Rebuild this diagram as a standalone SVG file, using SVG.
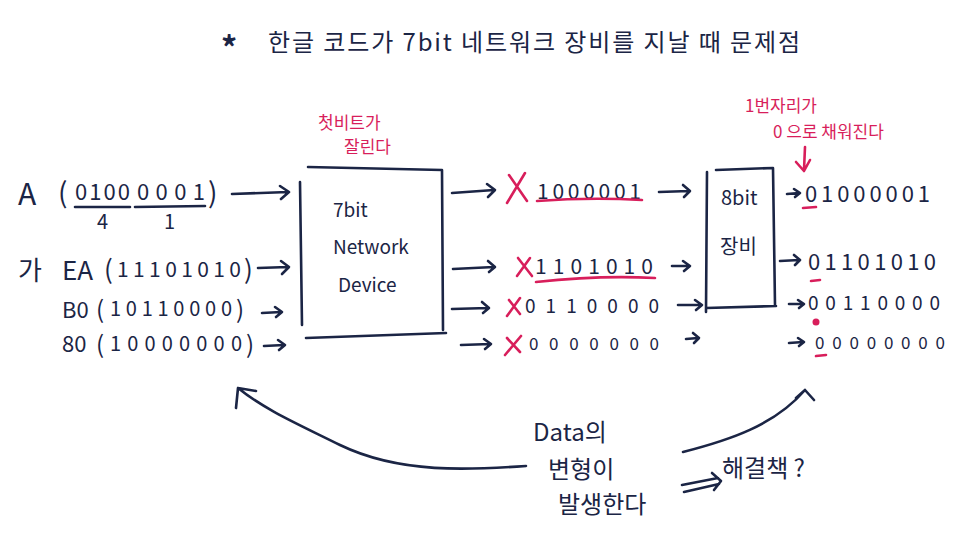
<svg xmlns="http://www.w3.org/2000/svg" width="964" height="548" viewBox="0 0 964 548">
<style>
text{font-family:"Noto Sans CJK KR","Noto Sans",sans-serif;fill:#1b2545}
.r{fill:#d81e5b}
.ln{fill:none;stroke:#1b2545;stroke-width:2.6;stroke-linecap:round;stroke-linejoin:round}
.rl{fill:none;stroke:#d81e5b;stroke-width:2.6;stroke-linecap:round;stroke-linejoin:round}
</style>
<rect width="964" height="548" fill="#ffffff"/>
<g id="title">
<text x="221" y="60" font-size="32" font-weight="bold">*</text>
<text x="268" y="51" font-size="24" textLength="532">한글 코드가  7bit 네트워크 장비를 지날 때 문제점</text>
</g>
<g id="inputs">
<text x="18" y="205" font-size="30">A</text>
<text x="58" y="203" font-size="28">(</text>
<text x="75" y="200" font-size="22" textLength="55" lengthAdjust="spacing">0100</text>
<text x="137" y="200" font-size="22" textLength="68" lengthAdjust="spacing">0001</text>
<text x="208" y="203" font-size="28">)</text>
<path class="ln" d="M75 207 L130 207 M135 207 L205 206"/>
<text x="97" y="229" font-size="20">4</text>
<text x="164" y="229" font-size="20">1</text>
<text x="18" y="280" font-size="26">가</text>
<text x="62" y="280" font-size="26">EA</text>
<text x="104" y="279" font-size="26">(</text>
<text x="117" y="277" font-size="21" textLength="124" lengthAdjust="spacing">11101010</text>
<text x="244" y="279" font-size="26">)</text>
<text x="62" y="318" font-size="22">B0</text>
<text x="96" y="318" font-size="24">(</text>
<text x="110" y="316" font-size="20" textLength="122" lengthAdjust="spacing">10110000</text>
<text x="236" y="318" font-size="24">)</text>
<text x="62" y="352" font-size="22">80</text>
<text x="96" y="353" font-size="24">(</text>
<text x="110" y="351" font-size="20" textLength="132" lengthAdjust="spacing">10000000</text>
<text x="246" y="353" font-size="24">)</text>
</g>
<g id="device7">
<path class="ln" d="M300 182 L302 325 M308 167 L442 170 L443 330 M306 338 L446 333"/>
<text x="333" y="217" font-size="19">7bit</text>
<text x="333" y="254" font-size="19">Network</text>
<text x="338" y="292" font-size="19">Device</text>
<text x="318" y="129" font-size="17" class="r">첫비트가</text>
<text x="344" y="153" font-size="17" class="r">잘린다</text>
</g>
<g id="middle">
<text x="537" y="199" font-size="21" textLength="104" lengthAdjust="spacing">1000001</text>
<path class="rl" d="M537 201 Q590 197 642 200"/>
<path class="rl" d="M509 175 L527 201 M525 173 L507 203"/>
<text x="535" y="274" font-size="21" textLength="118" lengthAdjust="spacing">1101010</text>
<path class="rl" d="M536 282 Q600 275 655 278"/>
<path class="rl" d="M518 258 L532 276 M530 258 L517 276"/>
<text x="525" y="313" font-size="19" textLength="134" lengthAdjust="spacing">0110000</text>
<path class="rl" d="M509 300 L520 314 M520 298 L507 316"/>
<text x="529" y="350" font-size="17" textLength="130" lengthAdjust="spacing">0000000</text>
<path class="rl" d="M507 338 L520 352 M521 336 L505 355"/>
</g>
<g id="device8">
<path class="ln" d="M707 172 L706 312 M716 170 L773 168 L775 305 M706 308 L776 306"/>
<text x="721" y="205" font-size="20">8bit</text>
<text x="720" y="254" font-size="20">장비</text>
<text x="745" y="112" font-size="17" class="r">1번자리가</text>
<text x="773" y="138" font-size="17" class="r">0 으로 채워진다</text>
<path class="rl" d="M805 147 L804 170 M796 162 L804 171 L810 160"/>
</g>
<g id="outputs">
<text x="805" y="202" font-size="22" textLength="125" lengthAdjust="spacing">01000001</text>
<path class="rl" d="M803 208 L816 207"/>
<text x="808" y="270" font-size="22" textLength="128" lengthAdjust="spacing">01101010</text>
<path class="rl" d="M811 281 L820 280"/>
<text x="808" y="310" font-size="19" textLength="132" lengthAdjust="spacing">00110000</text>
<circle cx="816" cy="322" r="3.5" fill="#d81e5b"/>
<text x="815" y="349" font-size="17" textLength="130" lengthAdjust="spacing">00000000</text>
<path class="rl" d="M816 356 L826 355"/>
</g>
<g id="bottom">
<text x="533" y="441" font-size="24">Data의</text>
<text x="548" y="478" font-size="24">변형이</text>
<text x="558" y="513" font-size="24">발생한다</text>
<text x="722" y="477" font-size="24">해결책 ?</text>
</g>
<g id="connectors">
<path class="ln" d="M232 194 L288 192 M280 186 L289 192 L281 199"/>
<path class="ln" d="M258 268 L288 267 M281 261 L289 267 L282 274"/>
<path class="ln" d="M262 313 L281 312 M275 307 L282 312 L276 317"/>
<path class="ln" d="M264 346 L284 345 M278 340 L285 345 L279 350"/>
<path class="ln" d="M452 193 L494 190 M487 184 L495 190 L488 197"/>
<path class="ln" d="M453 269 L494 267 M488 261 L495 267 L489 272"/>
<path class="ln" d="M452 309 L488 308 M482 302 L489 308 L483 313"/>
<path class="ln" d="M461 345 L490 344 M484 339 L491 344 L485 349"/>
<path class="ln" d="M659 192 L689 191 M683 185 L690 191 L684 197"/>
<path class="ln" d="M672 266 L689 266 M683 261 L690 266 L684 271"/>
<path class="ln" d="M678 305 L701 305 M695 300 L702 305 L696 310"/>
<path class="ln" d="M686 339 L698 338 M693 333 L699 338 L694 343"/>
<path class="ln" d="M787 194 L799 193 M794 189 L800 193 L795 197"/>
<path class="ln" d="M780 261 L799 260 M794 255 L800 260 L795 265"/>
<path class="ln" d="M789 304 L803 304 M798 300 L804 304 L799 308"/>
<path class="ln" d="M789 343 L803 342 M798 338 L804 342 L799 346"/>
<path class="ln" d="M526 466 C470 470 400 474 340 445 C300 425 265 410 238 388 M236 408 L238 388 L256 391"/>
<path class="ln" d="M683 452 C730 440 775 425 805 390 M796 398 L805 390 L814 400"/>
<path class="ln" d="M682 485 L718 478 M684 492 L719 484 M712 473 L721 481 L714 490"/>
</g>
</svg>
